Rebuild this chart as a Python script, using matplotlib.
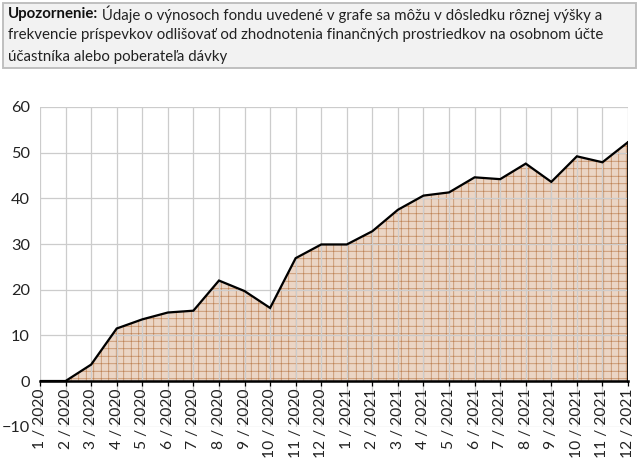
"""
Vynosy fondu 1/2020 - 12/2021, plocha s mriezkovym srafovanim
"""

import matplotlib
matplotlib.use('Agg')
import matplotlib.pyplot as plt

months = ['1 / 2020', '2 / 2020', '3 / 2020', '4 / 2020', '5 / 2020', '6 / 2020',
          '7 / 2020', '8 / 2020', '9 / 2020', '10 / 2020', '11 / 2020', '12 / 2020',
          '1 / 2021', '2 / 2021', '3 / 2021', '4 / 2021', '5 / 2021', '6 / 2021',
          '7 / 2021', '8 / 2021', '9 / 2021', '10 / 2021', '11 / 2021', '12 / 2021']

returns = [0.0, 0.0, 3.6, 11.5, 13.5, 15.0, 15.4, 22.0, 19.7, 16.0, 26.9, 29.9,
           29.9, 32.8, 37.5, 40.6, 41.3, 44.6, 44.2, 47.6, 43.6, 49.2, 47.9, 52.3]

y_ticks = [-10, 0, 10, 20, 30, 40, 50, 60]

notice_bold = 'Upozornenie:'
notice_lines = [' Údaje o výnosoch fondu uvedené v grafe sa môžu v dôsledku rôznej výšky a',
                'frekvencie príspevkov odlišovať od zhodnotenia finančných prostriedkov na osobnom účte',
                'účastníka alebo poberateľa dávky']

plt.rcParams['font.family'] = ['Lato', 'DejaVu Sans']
plt.rcParams['hatch.color'] = '#bf8457'
plt.rcParams['hatch.linewidth'] = 0.55

fig = plt.figure(figsize=(639 / 90, 466 / 90), dpi=90)
ax = fig.add_axes([40 / 639, 1 - 426.7 / 466, 588 / 639, 319.7 / 466])

# os x prechadza nulou (najprv, lebo set_position resetuje ticky)
for s in ['top', 'right', 'left']:
    ax.spines[s].set_visible(False)
ax.spines['bottom'].set_position(('data', 0))
ax.spines['bottom'].set_linewidth(2)
ax.spines['bottom'].set_zorder(5)

x = list(range(len(months)))
ax.fill_between(x, returns, 0, facecolor='#ebd5c5', edgecolor='#bf8457',
                hatch='++', linewidth=0, zorder=1)
ax.plot(x, returns, color='black', lw=1.8, zorder=4, solid_joinstyle='miter')
ax.plot([x[-1], x[-1]], [0, returns[-1]], color='black', lw=2.2, zorder=4)

ax.set_xlim(0, len(months) - 1)
ax.set_ylim(-10, 60)
ax.set_yticks(y_ticks)
ax.set_xticks(x)
ax.set_xticklabels(months, rotation=90, fontsize=12.5, color='#222222')
ax.tick_params(axis='y', length=0, labelsize=13, pad=8, labelcolor='#222222')
ax.tick_params(axis='x', length=4, width=1, color='black', pad=2)
ax.grid(True, color='#cccccc', lw=1, zorder=2)
ax.set_axisbelow(False)

# upozornenie v sivom ramceku
box = plt.Rectangle((3 / 639, 1 - 68 / 466), 633 / 639, 65 / 466, transform=fig.transFigure,
                    facecolor='#f2f2f2', edgecolor='#bdbdbd', lw=1.5)
fig.patches.append(box)
line_y = [14, 35.5, 57]
t1 = fig.text(8 / 639, 1 - line_y[0] / 466, notice_bold, fontsize=12, fontweight='bold',
              va='center', color='#111111')
fig.canvas.draw()
x0 = t1.get_window_extent().x1 / fig.bbox.width
fig.text(x0, 1 - line_y[0] / 466, notice_lines[0], fontsize=12, va='center', color='#222222')
for ly, txt in zip(line_y[1:], notice_lines[1:]):
    fig.text(8 / 639, 1 - ly / 466, txt, fontsize=12, va='center', color='#222222')

fig.savefig('out.png', dpi=90)
